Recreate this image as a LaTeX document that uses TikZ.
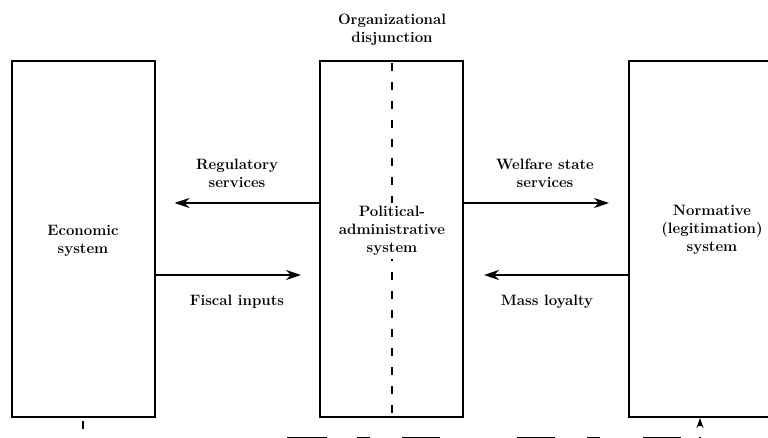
\documentclass[tikz,border=0pt]{standalone}
\usetikzlibrary{arrows.meta}
\tikzset{
  sysbox/.style={draw=black, line width=2pt, minimum width=143pt, minimum height=356pt},
  lbl/.style={align=center, inner sep=1pt, font=\fontsize{15}{18}\selectfont\bfseries},
  flow/.style={line width=1.6pt, -{Stealth[length=15pt,width=10pt]}},
  cut/.style={line width=1.3pt, dash pattern=on 8pt off 11pt}
}
\begin{document}
\begin{tikzpicture}[x=1pt,y=-1pt]
        \useasboundingbox (0,0) rectangle (768,438);
        \clip (0,0) rectangle (768,438);

        % Systems
        \node[sysbox] (eco) at (83,239) {};
        \node[sysbox] (pas) at (391.5,239) {};
        \node[sysbox, minimum width=166pt] (norm) at (712,239) {};
        \node[lbl] (ecot) at (83,241) {Economic\\system};
        \node[lbl] (normt) at (712,230) {Normative\\(legitimation)\\system};

        % Organizational disjunction
        \node[lbl] (dis) at (392,30) {Organizational\\disjunction};
        \draw[cut] (pas.north) ++(0.5,3) -- ([xshift=0.5pt,yshift=3pt]pas.south);
        \node[lbl, fill=white, inner sep=3pt] (past) at (392,231) {Political-\\administrative\\system};

        % Exchanges with the economy
        \draw[flow, shorten >=19pt] (pas.west |- 0,203) -- (eco.east |- 0,203);
        \draw[flow, shorten >=18pt] (eco.east |- 0,275) -- (pas.west |- 0,275);
        \node[lbl] (reg) at (237,173) {Regulatory\\services};
        \node[lbl] (fis) at (237,302) {Fiscal inputs};

        % Exchanges with the normative system
        \draw[flow, shorten >=19pt] (pas.east |- 0,203) -- (norm.west |- 0,203);
        \draw[flow, shorten >=20pt] (norm.west |- 0,275) -- (pas.east |- 0,275);
        \node[lbl] (wel) at (545,173) {Welfare state\\services};
        \node[lbl] (mas) at (547,302) {Mass loyalty};

        % Links below the frame
        \draw[cut, shorten <=3pt] (eco.south) -- (eco.south |- 0,445);
        \coordinate (rise) at (700,445);
        \draw[cut, line width=1.6pt, -{Stealth[length=10pt,width=7pt]}] (rise) -- (rise |- norm.south);
        \draw[line width=3pt, dash pattern=on 40pt off 30pt on 13pt off 32pt] (287,438) -- (440,438);
        \draw[line width=3pt, dash pattern=on 38pt off 32pt on 13pt off 43pt] (517,438) -- (690,438);

\end{tikzpicture}
\end{document}
